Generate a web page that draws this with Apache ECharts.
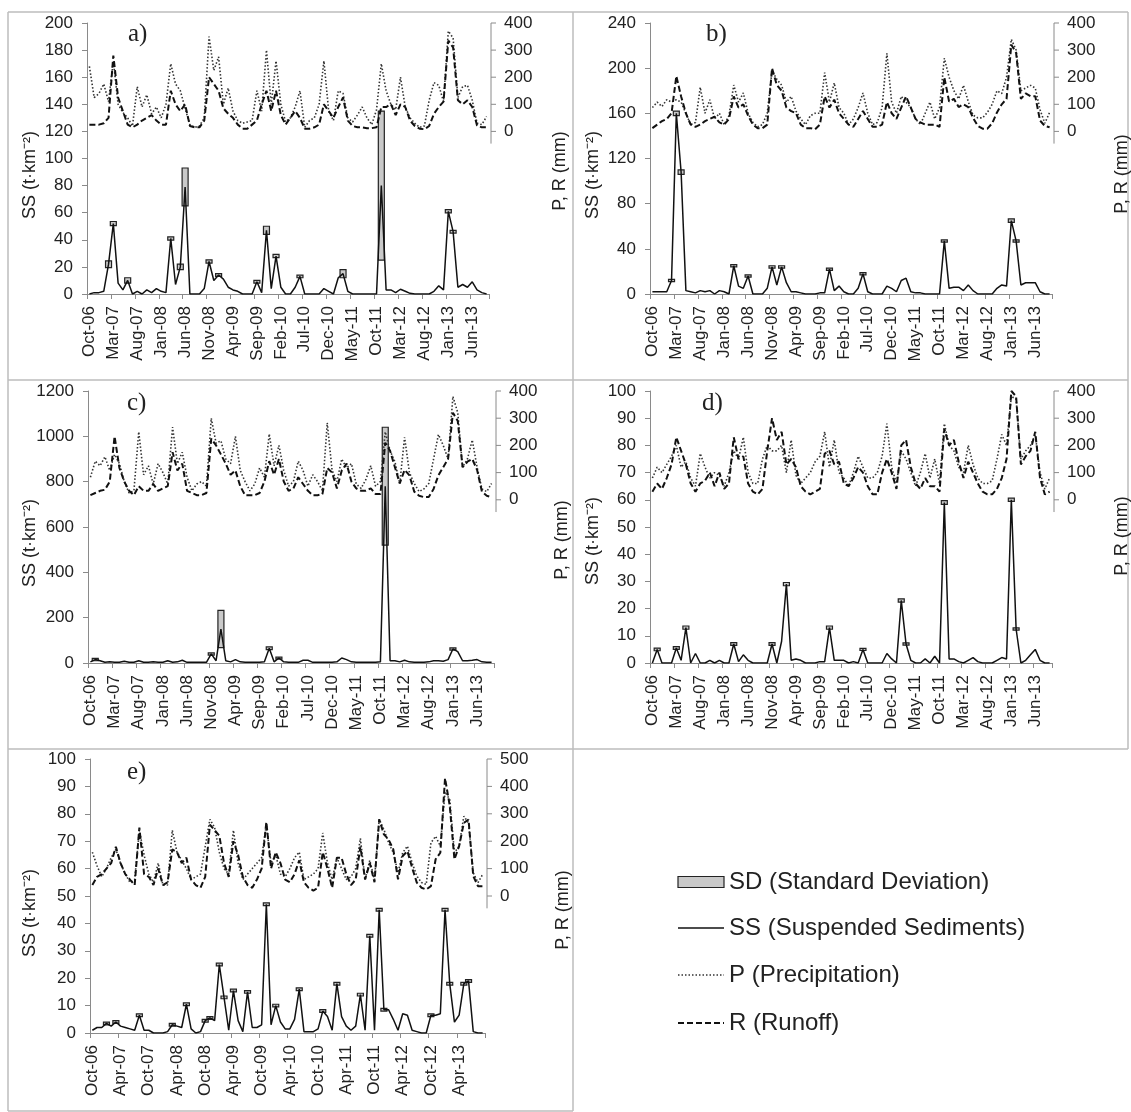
<!DOCTYPE html>
<html>
<head>
<meta charset="utf-8">
<script src="https://cdn.jsdelivr.net/npm/echarts@6/dist/echarts.min.js"></script>
<style>
  html, body { margin: 0; padding: 0; background: #fff; }
  #main { width: 1131px; height: 1112px; }
</style>
</head>
<body>
<div id="main"></div>
<script>
// month categories Oct-06 .. Sep-13
const monthNames = ['Jan','Feb','Mar','Apr','May','Jun','Jul','Aug','Sep','Oct','Nov','Dec'];
const months = [];
for (let k = 0; k < 84; k++) {
  const m = (9 + k) % 12;
  const y = 6 + Math.floor((9 + k) / 12);
  months.push(monthNames[m] + '-' + String(y).padStart(2, '0'));
}

// suspended sediments (t km-2)
const ssA = [0,1,1,2,22,52,8,3,10,0, 2,0,3,1,4,2,1,41,7,20, 79,0,0,0,4,24,10,14,11,5, 3,2,0,0,0,9,1,47,4,28, 5,0,0,5,13,0,0,0,0,4, 2,0,12,15,2,0,0,0,0,0, 0,80,3,3,1,3.5,2,0.5,0,0, 0,0,2,6,3,61,46,5,7,5, 9,3,1,0];
const ssB = [2,2,2,2,12,160,108,3,2,1, 3,2,3,0,3,2,0,25,7,5, 16,0,0,0,5,24,8,24,10,2, 2,1,0,0,0,1,1,22,3,7, 2,0,0,5,18,2,0,0,0,7, 5,2,12,14,2,1,1,0,0,0, 0,47,5,6,6,3,8,3,0,0, 0,0,5,8,7,65,47,8,10,10, 10,2,0,0];
const ssC = [5,15,10,3,5,3,3,8,3,3, 10,3,3,5,3,3,10,3,5,12, 3,3,3,3,3,40,10,150,10,5, 15,5,3,3,3,3,5,65,5,22, 5,3,3,3,12,12,3,3,3,3, 3,5,22,15,5,3,3,3,3,3, 5,780,10,10,5,12,5,3,3,3, 5,10,10,8,15,62,50,10,10,12, 15,5,3,3];
const ssD = [0,5,0,0,0,5.5,1,13,0,3.5, 0,0,1,0,1,0,0,7,0.5,3, 1,0,0,0,0,7,0,8,29,1, 1.5,1,0,0,0,0.5,0.5,13,1,1, 1,0,0.5,0,5,0,0,0,0,3.5, 1.5,0,23,7,1,0,0,1.5,0,2.5, 0,59,1.5,1.5,0.5,0,1,2,0.5,0, 0,0,1,2,1.5,60,12.5,0,1,3, 5,1,0,0];
const ssE = [1,2,2,3.5,2.5,4,2.5,2,1.5,1, 6.5,1,1,0,0,0,0.5,3,2.5,2, 10.5,1.5,0,0.5,4.5,5.5,4.5,25,13,1, 15.5,4.5,0.5,15,2,2,3,47,3,10, 4,1.5,1.5,5,16,0.5,0.5,0.5,1.5,8, 6,1,18,6,2.5,1,2.5,14,1,35.5, 1,45,8.5,8.5,5,1,7,6.5,1,0.5, 0,0,6.5,6.5,7,45,18,4,6.5,18, 19,0.5,0,0];

// standard deviation of SS
const sdA = [0,0,0,0,2.5,1.5,0,0,2,0, 0,0,0,0,0,0,0,1.2,0,2, 14,0,0,0,0,1.2,0,1,0,0, 0,0,0,0,0,1,0,3,0,1.2, 0,0,0,0,1,0,0,0,0,0, 0,0,0,3,0,0,0,0,0,0, 0,55,0,0,0,0,0,0,0,0, 0,0,0,0,0,1.2,1,0,0,0, 0,0,0,0];
const sdB = [0,0,0,0,1,2,2,0,0,0, 0,0,0,0,0,0,0,1,0,0, 1,0,0,0,0,1,0,1,0,0, 0,0,0,0,0,0,0,1,0,0, 0,0,0,0,1,0,0,0,0,0, 0,0,0,0,0,0,0,0,0,0, 0,1,0,0,0,0,0,0,0,0, 0,0,0,0,0,1.5,1,0,0,0, 0,0,0,0];
const sdC = [0,5,0,0,0,0,0,0,0,0, 0,0,0,0,0,0,0,0,0,0, 0,0,0,0,0,5,0,82,0,0, 0,0,0,0,0,0,0,6,0,4, 0,0,0,0,0,0,0,0,0,0, 0,0,0,0,0,0,0,0,0,0, 0,260,0,0,0,0,0,0,0,0, 0,0,0,0,0,5,0,0,0,0, 0,0,0,0];
const sdD = [0,0.5,0,0,0,0.5,0,0.6,0,0, 0,0,0,0,0,0,0,0.5,0,0, 0,0,0,0,0,0.5,0,0,0.6,0, 0,0,0,0,0,0,0,0.6,0,0, 0,0,0,0,0.4,0,0,0,0,0, 0,0,0.6,0.4,0,0,0,0,0,0, 0,0.7,0,0,0,0,0,0,0,0, 0,0,0,0,0,0.6,0.4,0,0,0, 0,0,0,0];
const sdE = [0,0,0,0.5,0,0.5,0,0,0,0, 0.5,0,0,0,0,0,0,0.5,0,0, 0.5,0,0,0,0.5,0.5,0,0.5,0.5,0, 0.5,0,0,0.5,0,0,0,0.5,0,0.5, 0,0,0,0,0.5,0,0,0,0,0.5, 0,0,0.5,0,0,0,0,0.5,0,0.5, 0,0.5,0.5,0,0,0,0,0,0,0, 0,0,0.5,0,0,0.5,0.5,0,0,0.5, 0.5,0,0,0];

// precipitation (mm)
const pA = [240,125,140,175,110,260,100,70,50,20, 165,90,135,65,90,50,100,250,175,150, 85,25,15,20,50,350,225,275,100,160, 75,40,30,35,40,150,75,300,100,260, 100,35,50,90,150,15,40,50,100,260, 75,40,150,140,50,35,60,90,50,25, 80,250,150,100,80,200,90,50,30,15, 20,115,180,170,110,370,345,125,165,170, 115,30,25,55];
const pB = [88,108,92,117,108,117,108,67,25,33, 163,67,117,46,67,25,58,171,108,142, 67,33,17,25,67,225,192,171,108,129, 75,46,25,58,67,67,217,108,179,88, 67,25,46,88,142,67,25,33,88,288, 108,67,129,108,88,46,25,67,108,46, 88,270,200,150,120,170,110,60,50,50, 70,100,150,140,200,340,300,150,160,170, 160,80,30,70];
const pC = [83,142,125,158,108,167,133,67,25,33, 250,92,125,58,133,100,58,267,133,175, 83,33,58,67,50,300,208,217,150,133, 233,108,67,33,58,117,83,242,125,200, 108,50,67,142,108,50,92,67,33,283, 108,67,150,117,133,58,42,75,125,50, 67,250,180,140,60,230,100,60,30,40, 60,150,240,200,150,380,320,120,150,220, 120,40,30,60];
const pD = [80,120,100,130,160,200,120,140,80,50, 170,120,80,100,90,50,100,180,150,230, 100,60,60,150,200,180,180,200,100,220, 90,60,80,100,140,160,250,120,220,100, 80,50,100,160,120,80,80,100,160,280, 120,60,180,150,100,50,100,170,80,150, 60,280,200,180,120,100,200,130,80,60, 60,70,150,240,200,380,370,150,180,200, 240,100,40,80];
const pE = [160,110,70,100,140,170,120,80,50,60, 240,150,80,50,120,40,40,240,160,130, 100,60,70,80,180,280,250,160,100,80, 240,120,60,80,100,120,140,260,120,150, 80,70,100,140,160,60,70,80,100,230, 120,60,140,100,60,70,100,210,60,130, 60,280,243,194,158,85,158,182,121,73, 49,42,194,218,182,380,352,158,182,291, 267,85,49,79];

// runoff (mm)
const rA = [25,25,25,30,50,280,125,75,25,15, 25,40,50,60,40,25,25,150,100,75, 100,20,15,15,40,200,175,150,85,65, 50,25,10,10,25,40,100,150,75,150, 60,25,50,75,50,10,10,15,25,100, 75,50,90,125,40,20,15,15,12,12, 15,90,90,100,60,100,90,40,20,10, 8,20,65,90,110,335,310,115,100,115, 90,22,15,15];
const rB = [12,25,38,46,67,204,129,67,25,17, 25,38,46,54,33,25,46,129,88,100, 58,25,12,12,25,233,171,150,88,75, 67,25,12,12,8,25,129,88,117,67, 46,25,17,46,75,46,17,17,25,108, 67,46,88,129,88,46,33,25,25,25, 17,200,110,120,90,100,90,50,20,10, 10,30,70,100,120,320,290,120,140,130, 130,40,20,15];
const rC = [17,25,33,37,67,233,117,67,33,17, 50,33,33,58,33,42,50,175,108,133, 33,25,17,17,25,225,200,167,133,92, 108,50,17,17,17,25,67,142,92,150, 67,33,42,83,58,33,17,17,21,117, 100,42,108,133,67,42,33,33,42,21, 21,210,180,120,60,110,90,30,15,10, 10,40,90,120,150,320,290,120,140,150, 110,30,15,10];
const rD = [30,60,40,80,130,230,180,130,60,30, 60,70,100,50,100,40,60,230,150,160, 60,30,20,40,180,300,220,250,130,150, 120,50,30,20,30,40,170,180,130,140, 60,50,80,120,100,50,20,20,100,150, 100,40,200,220,120,60,40,80,50,50, 30,260,200,220,140,80,140,100,60,30, 20,20,40,80,150,400,380,130,160,180, 250,80,20,30];
const rE = [40,70,80,100,120,180,120,80,60,40, 250,80,70,40,100,40,50,170,160,120, 140,60,40,30,70,260,240,220,120,70, 200,150,70,40,30,60,100,270,100,160, 120,60,50,80,130,50,30,20,30,160, 100,30,140,140,80,40,60,180,60,120, 50,280,225,206,170,61,146,164,103,49, 30,24,36,134,158,430,330,134,182,267, 279,73,36,36];

// panel layout
const panels = [
  { tag: 'a)', ss: ssA, sd: sdA, p: pA, r: rA, ssMax: 200, ssStep: 20, prMin: -600, prMax: 400, every: 5,
    grid: { left: 87, top: 23, width: 402, height: 271 }, tagPos: [128, 22], ssTitle: [30, 175], prTitle: [560, 171] },
  { tag: 'b)', ss: ssB, sd: sdB, p: pB, r: rB, ssMax: 240, ssStep: 40, prMin: -600, prMax: 400, every: 5,
    grid: { left: 650, top: 23, width: 402, height: 271 }, tagPos: [706, 22], ssTitle: [593, 175], prTitle: [1122, 174] },
  { tag: 'c)', ss: ssC, sd: sdC, p: pC, r: rC, ssMax: 1200, ssStep: 200, prMin: -600, prMax: 400, every: 5,
    grid: { left: 88, top: 391, width: 406, height: 272 }, tagPos: [127, 391], ssTitle: [30, 543], prTitle: [562, 540] },
  { tag: 'd)', ss: ssD, sd: sdD, p: pD, r: rD, ssMax: 100, ssStep: 10, prMin: -600, prMax: 400, every: 5,
    grid: { left: 650, top: 391, width: 402, height: 272 }, tagPos: [702, 391], ssTitle: [593, 541], prTitle: [1122, 536] },
  { tag: 'e)', ss: ssE, sd: sdE, p: pE, r: rE, ssMax: 100, ssStep: 10, prMin: -500, prMax: 500, every: 6,
    grid: { left: 90, top: 759, width: 395, height: 274 }, tagPos: [127, 760], ssTitle: [30, 913], prTitle: [563, 910] }
];

const FONT = 'Liberation Sans, Arial, sans-serif';
const TXT = '#222';
const AX = '#8a8a8a';
const SD_FILL = '#c9c9c9';
const SS_LINE = { color: '#111', width: 1.5 };
const P_LINE = { color: '#333', width: 1.6, type: [1.5, 2] };
const R_LINE = { color: '#111', width: 2, type: [6, 3] };

const option = {
  animation: false,
  backgroundColor: '#fff',
  textStyle: { fontFamily: FONT },
  grid: [], xAxis: [], yAxis: [], series: []
};

panels.forEach((pn, k) => {
  option.grid.push(Object.assign({ containLabel: false }, pn.grid));
  option.xAxis.push({
    type: 'category', gridIndex: k, data: months, boundaryGap: true,
    axisLine: { onZero: false, lineStyle: { color: AX, width: 1 } },
    axisTick: { show: true, interval: pn.every - 1, length: 5, lineStyle: { color: AX } },
    axisLabel: { interval: pn.every - 1, rotate: 90, fontSize: 17, color: TXT, margin: 12 },
    splitLine: { show: false }
  });
  option.yAxis.push({
    type: 'value', gridIndex: k, min: 0, max: pn.ssMax, interval: pn.ssStep,
    axisLine: { show: true, lineStyle: { color: AX } },
    axisTick: { show: true, length: 5, lineStyle: { color: AX } },
    axisLabel: { fontSize: 17, color: TXT, margin: 14, formatter: v => String(v) },
    splitLine: { show: false }
  });
  option.yAxis.push({
    type: 'value', gridIndex: k, position: 'right', min: pn.prMin, max: pn.prMax, interval: 100,
    axisLine: { show: false }, axisTick: { show: false }, splitLine: { show: false },
    axisLabel: { fontSize: 17, color: TXT, margin: 15, formatter: v => (v < 0 ? '' : String(v)) }
  });

  const sdData = [];
  pn.sd.forEach((s, i) => {
    if (s > 0) sdData.push([i, Math.max(0, pn.ss[i] - s), pn.ss[i] + s]);
  });

  option.series.push({
    name: 'SD (Standard Deviation)', type: 'custom', xAxisIndex: k, yAxisIndex: 2 * k, z: 2,
    data: sdData,
    renderItem: (params, api) => {
      const i = api.value(0);
      const top = api.coord([i, api.value(2)]);
      const bot = api.coord([i, api.value(1)]);
      const w = 6;
      return {
        type: 'rect',
        shape: { x: top[0] - w / 2, y: top[1], width: w, height: Math.max(bot[1] - top[1], 2) },
        style: { fill: SD_FILL, stroke: '#222', lineWidth: 1.2 }
      };
    }
  });
  option.series.push({
    name: 'SS (Suspended Sediments)', type: 'line', xAxisIndex: k, yAxisIndex: 2 * k,
    data: pn.ss, symbol: 'none', z: 4, lineStyle: SS_LINE
  });
  option.series.push({
    name: 'P (Precipitation)', type: 'line', xAxisIndex: k, yAxisIndex: 2 * k + 1,
    data: pn.p, symbol: 'none', z: 3, lineStyle: P_LINE
  });
  option.series.push({
    name: 'R (Runoff)', type: 'line', xAxisIndex: k, yAxisIndex: 2 * k + 1,
    data: pn.r, symbol: 'none', z: 3, lineStyle: R_LINE
  });
});

const chart = echarts.init(document.getElementById('main'));
chart.setOption(option);

// frames, titles, panel tags, legend and the short visible part of the right axes
const FRAME = '#bdbdbd';
const g = [];
const frameLines = [
  [8, 12, 1128, 12], [8, 12, 8, 1111], [573, 12, 573, 1111], [1128, 12, 1128, 749],
  [8, 380, 1128, 380], [8, 749, 1128, 749], [8, 1111, 573, 1111]
];
frameLines.forEach(l => g.push({
  type: 'line', silent: true, shape: { x1: l[0], y1: l[1], x2: l[2], y2: l[3] },
  style: { stroke: FRAME, lineWidth: 1.5 }
}));

panels.forEach((pn, k) => {
  g.push({ type: 'text', x: pn.tagPos[0], y: pn.tagPos[1], silent: true,
    style: { text: pn.tag, fontSize: 25, fontFamily: 'Liberation Serif, Times New Roman, serif', fill: TXT } });
  g.push({ type: 'text', x: pn.ssTitle[0], y: pn.ssTitle[1], rotation: Math.PI / 2, silent: true,
    style: { text: 'SS (t·km⁻²)', fontSize: 18, fill: TXT, fontFamily: FONT, align: 'center', verticalAlign: 'middle' } });
  g.push({ type: 'text', x: pn.prTitle[0], y: pn.prTitle[1], rotation: Math.PI / 2, silent: true,
    style: { text: 'P, R (mm)', fontSize: 18, fill: TXT, fontFamily: FONT, align: 'center', verticalAlign: 'middle' } });

  const xr = pn.grid.left + pn.grid.width + 2;
  const yTop = chart.convertToPixel({ yAxisIndex: 2 * k + 1 }, pn.prMax);
  const yBot = chart.convertToPixel({ yAxisIndex: 2 * k + 1 }, -45);
  g.push({ type: 'line', silent: true, shape: { x1: xr, y1: yTop, x2: xr, y2: yBot },
    style: { stroke: AX, lineWidth: 1 } });
  for (let v = 0; v <= pn.prMax; v += 100) {
    const yy = chart.convertToPixel({ yAxisIndex: 2 * k + 1 }, v);
    g.push({ type: 'line', silent: true, shape: { x1: xr, y1: yy, x2: xr + 5, y2: yy },
      style: { stroke: AX, lineWidth: 1 } });
  }
});

// legend
const legX = 678, legW = 46, legTextX = 729;
const legRows = [
  { name: 'SD (Standard Deviation)', y: 882 },
  { name: 'SS (Suspended Sediments)', y: 928, line: SS_LINE },
  { name: 'P (Precipitation)', y: 975, line: P_LINE },
  { name: 'R (Runoff)', y: 1023, line: R_LINE }
];
legRows.forEach(row => {
  if (row.line) {
    g.push({ type: 'line', silent: true, shape: { x1: legX, y1: row.y, x2: legX + legW, y2: row.y },
      style: { stroke: row.line.color, lineWidth: row.line.width, lineDash: Array.isArray(row.line.type) ? row.line.type : null } });
  } else {
    g.push({ type: 'rect', silent: true, shape: { x: legX, y: row.y - 5.5, width: legW, height: 11 },
      style: { fill: SD_FILL, stroke: '#222', lineWidth: 1.2 } });
  }
  g.push({ type: 'text', silent: true, x: legTextX, y: row.y,
    style: { text: row.name, fontSize: 24, fill: TXT, fontFamily: FONT, verticalAlign: 'middle' } });
});

chart.setOption({ graphic: g });
</script>
</body>
</html>
